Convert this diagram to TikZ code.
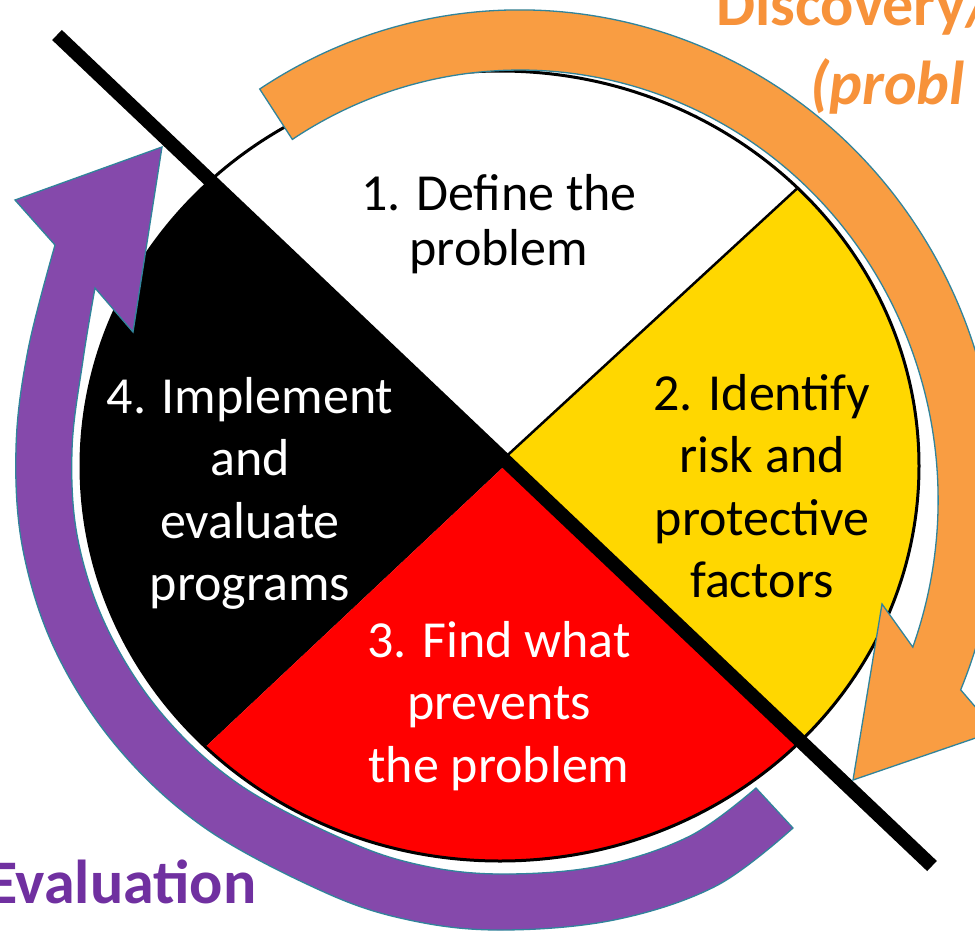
\documentclass[tikz,border=0pt]{standalone}
\usepackage{fontspec}
\setmainfont{Carlito}
\definecolor{orangeA}{HTML}{F99D42}
\definecolor{purpleA}{HTML}{8549AB}
\definecolor{tealA}{HTML}{31849B}
\definecolor{yellowA}{HTML}{FFD700}
\definecolor{redA}{HTML}{FF0000}
\definecolor{orangeT}{HTML}{F7923A}
\definecolor{purpleT}{HTML}{7030A0}
\tikzset{
  quad/.style={font=\fontsize{52}{62.5}\selectfont, inner sep=0pt, anchor=base},
  band/.style={draw=tealA, line width=1.3pt, line join=miter},
  big/.style={font=\fontsize{62}{74}\selectfont\bfseries, inner sep=0pt, anchor=base west},
}
\begin{document}
\begin{tikzpicture}[x=1pt,y=-1pt]
\useasboundingbox (0,0) rectangle (975,932);
\fill[white] (0,0) rectangle (975,932);
\coordinate (C) at (500,466);
\coordinate (L1a) at (57,35);
\coordinate (L1b) at (932,866);
\coordinate (X13) at (507.6,463);
\coordinate (X12) at (503.4,459);
% wheel
\fill[white] (C) ellipse [x radius=419, y radius=395];
\begin{scope}
  \clip (C) ellipse [x radius=419, y radius=395];
  \fill[black] (-200,-209) -- (X13) -- (-200,1128) -- cycle;
  \fill[redA] (X13) -- (1200,1120.5) -- (1200,1400) -- (-200,1400) -- (-200,1128) -- cycle;
  \fill[yellowA] (X12) -- (1200,-182.6) -- (1200,1120.5) -- cycle;
  \draw[line width=2.5pt] (X12) -- (1200,-182.6);
\end{scope}
\draw[line width=3pt] (C) ellipse [x radius=419, y radius=395];
\draw[line width=14pt] (L1a) -- (L1b);
% orange arrow (centre 520,500)
\coordinate (oTailOut) at (259.7,89.0);
\coordinate (oNotchIn) at (912.8,647.1);
\coordinate (oBarbOut) at (996,731);
\coordinate (oTip) at (853,780);
\coordinate (oBarbIn) at (882,604);
\filldraw[band, fill=orangeA]
  (oTailOut) arc[start angle=237, end angle=382.8, x radius=478, y radius=490]
  -- (oBarbOut) -- (oTip) -- (oBarbIn) -- (oNotchIn)
  arc[start angle=380, end angle=237, x radius=418, y radius=430]
  -- cycle;
% purple arrow
\filldraw[band, fill=purpleA]
  plot[smooth, tension=0.6] coordinates {(793,828) (716,886) (614,920) (500,930) (409,920) (324,892) (205,828) (118,748) (56,652) (23,550) (16,448) (28,350) (55,245)}
  -- (15,200) -- (162,147) -- (133,332)
  -- plot[smooth, tension=0.6] coordinates {(95,288) (83,360) (72,450) (78,540) (108,630) (163,715) (240,785) (345,840) (420,865) (500,874) (600,866) (690,836) (756,788)}
  -- cycle;
% texts
\node[quad, font=\fontsize{52}{55}\selectfont] (t1) at (499,210) {\begin{tabular}[t]{@{}c@{}}1. Define the\\problem\end{tabular}};
\node[quad] (t2) at (762,410) {\begin{tabular}[t]{@{}c@{}}2. Identify\\risk and\\protective\\factors\end{tabular}};
\node[quad, text=white] (t3) at (499,657) {\begin{tabular}[t]{@{}c@{}}3. Find what\\prevents\\the problem\end{tabular}};
\node[quad, text=white] (t4) at (250,413) {\begin{tabular}[t]{@{}c@{}}4. Implement\\and\\evaluate\\programs\end{tabular}};
\node[big, text=purpleT] (ev) at (-13,903) {Evaluation};
\node[big, text=orangeT] (d1) at (716,25) {Discovery/};
\node[big, text=orangeT, font=\fontsize{62}{74}\selectfont\bfseries\itshape] (d2) at (810,104) {(probl};
\end{tikzpicture}
\end{document}
